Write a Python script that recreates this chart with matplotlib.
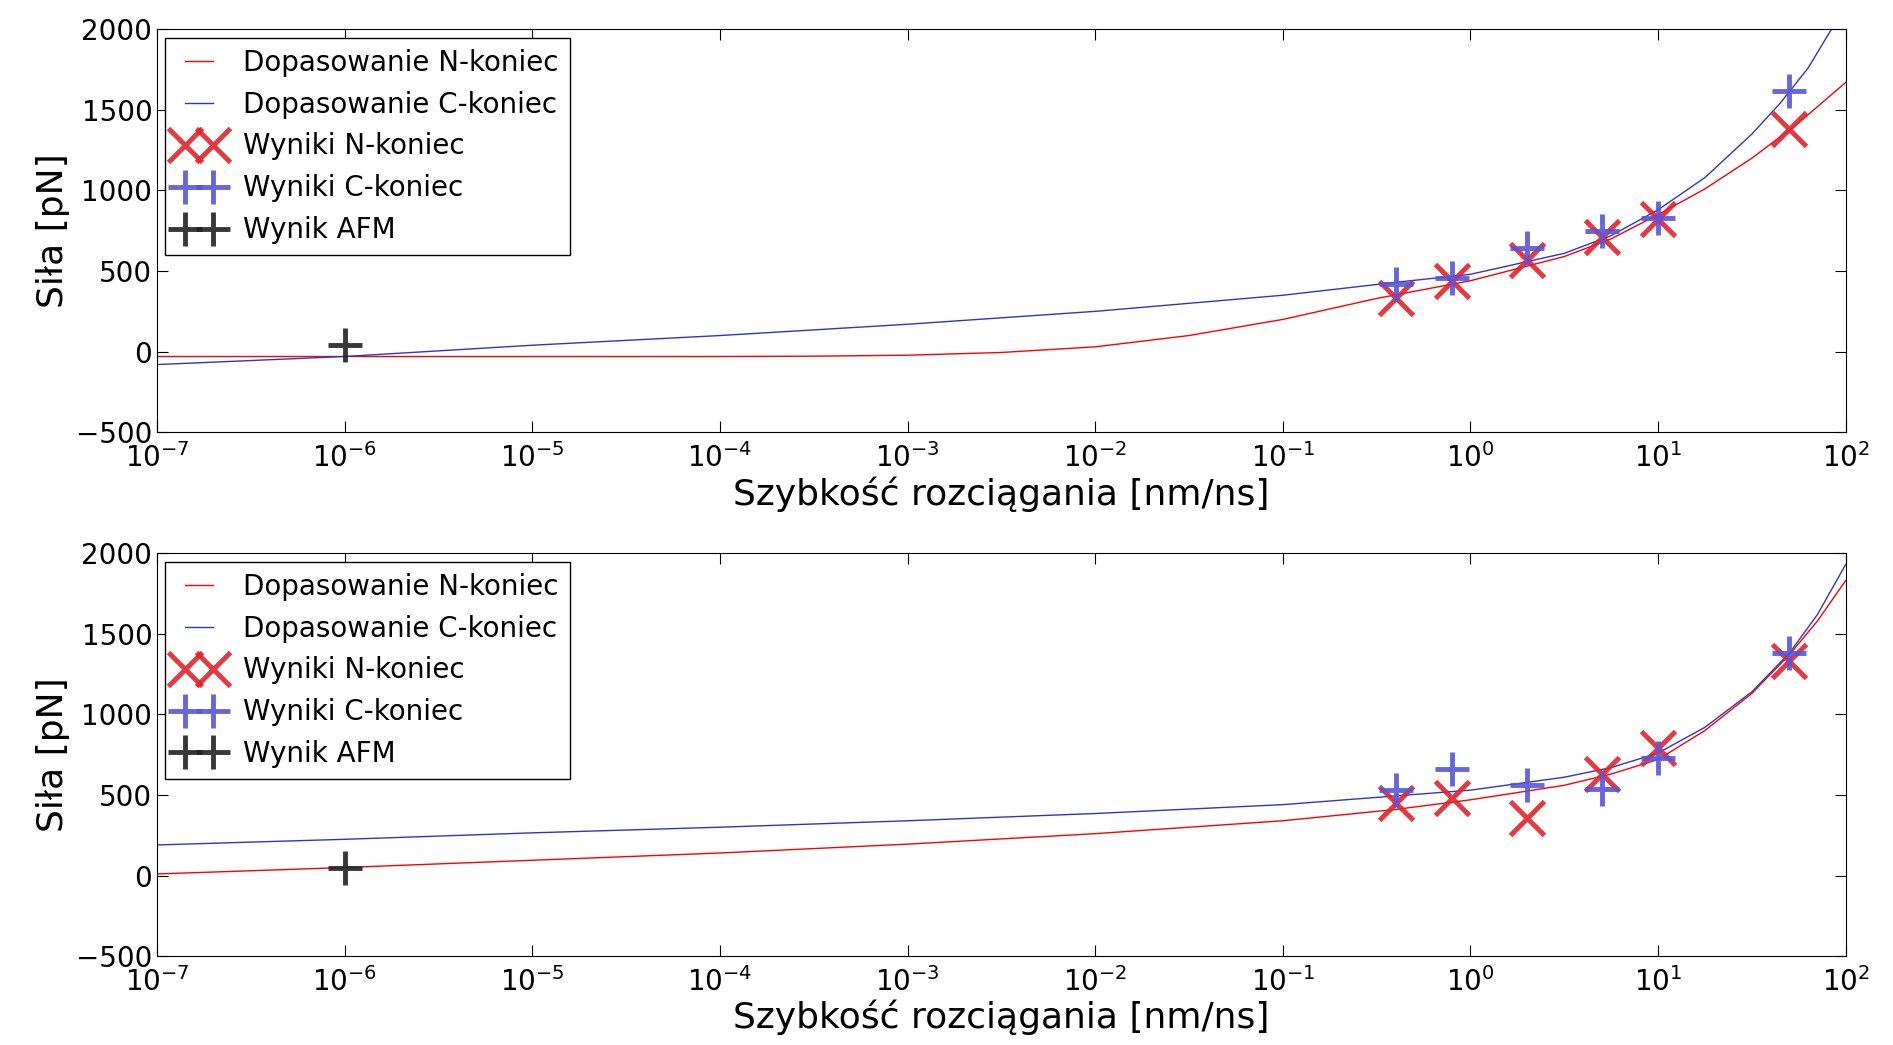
import numpy as np
import matplotlib.pyplot as plt
from matplotlib.ticker import LogLocator

plt.rcParams['font.family'] = 'DejaVu Sans'

# punkty pomiarowe
v = [0.4, 0.8, 2, 5, 10, 50]
top_N = [330, 440, 570, 710, 820, 1380]
top_C = [420, 460, 640, 750, 830, 1620]
bot_N = [450, 480, 360, 630, 790, 1330]
bot_C = [530, 660, 560, 540, 730, 1380]
afm_v = [1e-6]
top_afm = [40]
bot_afm = [50]

# krzywe dopasowania (log10 v, F)
top_fitN_x = [-7, -5, -4, -3.5, -3, -2.5, -2, -1.5, -1, -0.5, 0, 0.5, 0.75, 1, 1.25, 1.5, 1.75, 2]
top_fitN_y = [-30, -30, -30, -28, -22, -5, 30, 100, 200, 330, 440, 590, 700, 850, 1010, 1200, 1420, 1670]
top_fitC_x = [-7, -6, -5, -4, -3, -2, -1, -0.4, 0, 0.5, 0.75, 1, 1.25, 1.5, 1.65, 1.8, 1.95]
top_fitC_y = [-80, -30, 40, 100, 170, 250, 350, 430, 480, 610, 720, 880, 1080, 1350, 1540, 1760, 2050]
bot_fitN_x = [-7, -6, -5, -4, -3, -2, -1, -0.4, 0, 0.5, 0.75, 1, 1.25, 1.5, 1.7, 1.85, 2]
bot_fitN_y = [10, 50, 95, 140, 195, 260, 340, 410, 470, 560, 630, 720, 900, 1130, 1370, 1580, 1830]
bot_fitC_x = [-7, -6, -5, -4, -3, -2, -1, 0, 0.5, 0.75, 1, 1.25, 1.5, 1.7, 1.85, 2]
bot_fitC_y = [190, 225, 265, 300, 340, 385, 440, 530, 610, 670, 760, 920, 1140, 1380, 1620, 1930]

fig, axes = plt.subplots(2, 1, figsize=(18.93, 10.45), dpi=100)
panels = [(top_fitN_x, top_fitN_y, top_fitC_x, top_fitC_y, top_N, top_C, top_afm),
          (bot_fitN_x, bot_fitN_y, bot_fitC_x, bot_fitC_y, bot_N, bot_C, bot_afm)]

for ax, (nx, ny, cx, cy, mN, mC, afm) in zip(axes, panels):
    ax.plot(10**np.array(nx, float), ny, color='red', lw=1, label='Dopasowanie N-koniec')
    ax.plot(10**np.array(cx, float), cy, color='#3333cc', lw=1, label='Dopasowanie C-koniec')
    ax.plot(v, mN, 'x', color='#e8202a', ms=24, mew=3.5, alpha=0.9, label='Wyniki N-koniec')
    ax.plot(v, mC, '+', color='#5555dd', ms=24, mew=3.5, alpha=0.9, label='Wyniki C-koniec')
    ax.plot(afm_v, afm, '+', color='#222222', ms=24, mew=3.5, alpha=0.9, label='Wynik AFM')
    ax.set_xscale('log')
    ax.set_xlim(1e-7, 1e2)
    ax.xaxis.set_major_locator(LogLocator(base=10, numticks=20))
    ax.set_ylim(-500, 2000)
    ax.set_yticks([-500, 0, 500, 1000, 1500, 2000])
    ax.tick_params(labelsize=20, direction='in', which='both', top=True, right=True, length=8)
    ax.tick_params(axis='x', pad=8)
    ax.tick_params(which='minor', length=4)
    ax.set_xlabel('Szybkość rozciągania [nm/ns]', fontsize=26, labelpad=2)
    ax.set_ylabel('Siła [pN]', fontsize=26)
    leg = ax.legend(loc='upper left', fontsize=20, numpoints=2, fancybox=False,
                    framealpha=1, edgecolor='black', borderaxespad=0.3, handlelength=1.6)
    leg.get_frame().set_linewidth(1)

plt.subplots_adjust(left=0.083, right=0.975, top=0.972, bottom=0.085, hspace=0.3)
plt.savefig('out.png')
